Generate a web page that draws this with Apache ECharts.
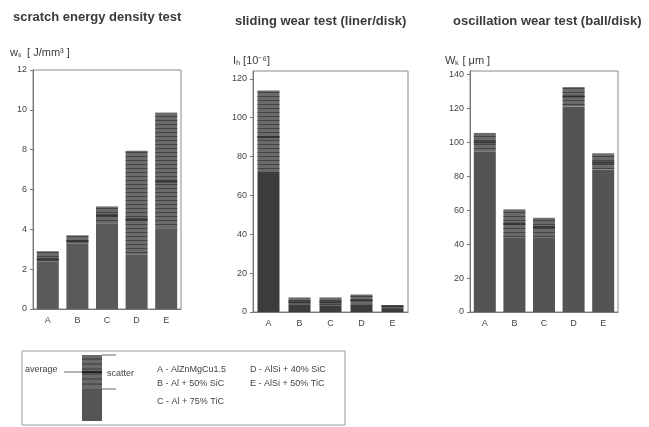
<!DOCTYPE html>
<html>
<head>
<meta charset="utf-8">
<style>
  html, body { margin: 0; padding: 0; background: #fff; }
  #chart { width: 649px; height: 427px; }
</style>
<script src="https://cdn.jsdelivr.net/npm/echarts@6/dist/echarts.min.js"></script>
</head>
<body>
<div id="chart"></div>
<script>
// Materials A–E
var categories = ['A', 'B', 'C', 'D', 'E'];

// Scratch energy density w_s [J/mm³]: lower / upper bound of scatter, average
var scratchLow  = [2.4, 3.3, 4.3, 2.75, 4.05];
var scratchHigh = [2.9, 3.7, 5.15, 7.95, 9.85];
var scratchAvg  = [2.5, 3.4, 4.7, 4.5, 6.4];

// Sliding wear test (liner/disk), I_h [10⁻⁶]
var slidingLow  = [72, 4, 3.5, 4, 2];
var slidingHigh = [114, 7.5, 7.5, 9, 3.5];
var slidingAvg  = [90, 5, 5, 6, 3];

// Oscillation wear test (ball/disk), W_k [µm]
var oscLow  = [94.5, 44, 44, 121, 84];
var oscHigh = [105.5, 60.5, 55.5, 132.5, 93.5];
var oscAvg  = [100, 52, 50, 127, 88];

var panels = [
  { title: 'scratch energy density test', unit: 'wₛ  [ J/mm³ ]', low: scratchLow, high: scratchHigh, avg: scratchAvg,
    max: 12, interval: 2, grid: { left: 33, width: 148, top: 70, height: 239 }, color: '#5a5a5a',
    titlePos: [8, 6], unitPos: [5, 42] },
  { title: 'sliding wear test (liner/disk)', unit: 'Iₕ [10⁻⁶]', low: slidingLow, high: slidingHigh, avg: slidingAvg,
    max: 124, interval: 20, grid: { left: 253, width: 155, top: 71, height: 241 }, color: '#3c3c3c',
    titlePos: [230, 10], unitPos: [228, 50] },
  { title: 'oscillation wear test (ball/disk)', unit: 'Wₖ [ μm ]', low: oscLow, high: oscHigh, avg: oscAvg,
    max: 142, interval: 20, grid: { left: 470, width: 148, top: 71, height: 241 }, color: '#545454',
    titlePos: [448, 10], unitPos: [440, 50] }
];

var grids = [], xAxes = [], yAxes = [], series = [], titles = [];
var barW = 22;

panels.forEach(function (p, i) {
  grids.push(Object.assign({ show: true, borderColor: '#8a8a8a', borderWidth: 1, backgroundColor: '#fff' }, p.grid));
  xAxes.push({
    type: 'category', gridIndex: i, data: categories,
    axisLine: { lineStyle: { color: '#777' } },
    axisTick: { show: false },
    axisLabel: { color: '#444', fontSize: 9, margin: 7, fontFamily: 'Liberation Sans' }
  });
  yAxes.push({
    type: 'value', gridIndex: i, min: 0, max: p.max, interval: p.interval,
    splitLine: { show: false },
    axisLine: { show: true, lineStyle: { color: '#777' } },
    axisTick: { show: true, length: 3, lineStyle: { color: '#777' } },
    axisLabel: { color: '#444', fontSize: 9, margin: 6, showMaxLabel: p.max % p.interval === 0, fontFamily: 'Liberation Sans' }
  });
  var diff = p.high.map(function (h, k) { return +(h - p.low[k]).toFixed(3); });
  series.push({
    type: 'bar', xAxisIndex: i, yAxisIndex: i, stack: 's' + i, barWidth: barW,
    data: p.low, itemStyle: { color: p.color }, silent: true
  });
  series.push({
    type: 'bar', xAxisIndex: i, yAxisIndex: i, stack: 's' + i, barWidth: barW,
    data: diff, silent: true,
    itemStyle: {
      color: '#6a6a6a',
      decal: { symbol: 'rect', symbolSize: 1, dashArrayX: [[1, 0]], dashArrayY: [1, 3], rotation: 0, color: 'rgba(45,45,45,0.6)' }
    }
  });
  series.push({
    type: 'scatter', xAxisIndex: i, yAxisIndex: i, data: p.avg, symbol: 'rect',
    symbolSize: [barW, 2], itemStyle: { color: '#2a2a2a' }, silent: true, z: 5
  });
  titles.push({
    text: p.title, left: p.titlePos[0], top: p.titlePos[1],
    textStyle: { fontSize: 13, fontWeight: 'bold', color: '#3a3a3a', fontFamily: 'Liberation Sans' }
  });
  titles.push({
    text: p.unit, left: p.unitPos[0], top: p.unitPos[1],
    textStyle: { fontSize: 11, fontWeight: 'normal', color: '#3a3a3a', fontFamily: 'Liberation Sans' }
  });
});

// Key box: bar glyph explaining average / scatter, plus material names
var stripes = [];
[359, 364, 369, 374, 379, 384].forEach(function (y) {
  stripes.push({ type: 'line', shape: { x1: 82, y1: y, x2: 102, y2: y }, style: { stroke: 'rgba(35,35,35,0.7)', lineWidth: 1 } });
});
var keyText = { fontSize: 9, fill: '#444', fontFamily: 'Liberation Sans' };
var graphic = [
  { type: 'rect', shape: { x: 22, y: 351, width: 323, height: 74 }, style: { fill: 'none', stroke: '#999', lineWidth: 1 } },
  { type: 'rect', shape: { x: 82, y: 355, width: 20, height: 66 }, style: { fill: '#555' } },
  { type: 'rect', shape: { x: 82, y: 355, width: 20, height: 34 }, style: { fill: '#6a6a6a' } }
].concat(stripes).concat([
  { type: 'line', shape: { x1: 82, y1: 372, x2: 102, y2: 372 }, style: { stroke: '#222', lineWidth: 2 } },
  { type: 'line', shape: { x1: 64, y1: 372, x2: 82, y2: 372 }, style: { stroke: '#666', lineWidth: 1 } },
  { type: 'line', shape: { x1: 102, y1: 355, x2: 116, y2: 355 }, style: { stroke: '#666', lineWidth: 1 } },
  { type: 'line', shape: { x1: 102, y1: 389, x2: 116, y2: 389 }, style: { stroke: '#666', lineWidth: 1 } },
  { type: 'text', x: 25, y: 365, style: Object.assign({ text: 'average' }, keyText) },
  { type: 'text', x: 107, y: 369, style: Object.assign({ text: 'scatter' }, keyText) },
  { type: 'text', x: 157, y: 365, style: Object.assign({ text: 'A - AlZnMgCu1.5' }, keyText) },
  { type: 'text', x: 157, y: 379, style: Object.assign({ text: 'B - Al + 50% SiC' }, keyText) },
  { type: 'text', x: 157, y: 397, style: Object.assign({ text: 'C - Al + 75% TiC' }, keyText) },
  { type: 'text', x: 250, y: 365, style: Object.assign({ text: 'D - AlSi + 40% SiC' }, keyText) },
  { type: 'text', x: 250, y: 379, style: Object.assign({ text: 'E - AlSi + 50% TiC' }, keyText) }
]);

var chart = echarts.init(document.getElementById('chart'), null, { renderer: 'canvas' });
chart.setOption({
  animation: false,
  backgroundColor: '#fff',
  title: titles,
  grid: grids,
  xAxis: xAxes,
  yAxis: yAxes,
  series: series,
  graphic: graphic
});
</script>
</body>
</html>
